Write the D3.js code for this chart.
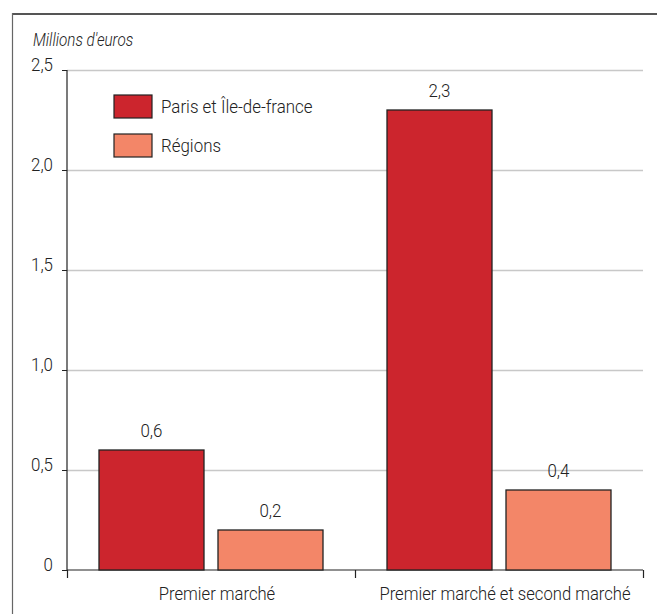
<!DOCTYPE html>
<html><head><meta charset="utf-8">
<script src="https://cdn.jsdelivr.net/npm/d3@7"></script>
<style>
body{margin:0;background:#fff;}
text{font-family:Roboto,"Liberation Sans",sans-serif;font-weight:300;fill:#222;}
</style></head>
<body>
<svg id="c" width="657" height="614"></svg>
<script>
const categories = ["Premier marché", "Premier marché et second marché"];
const seriesNames = ["Paris et Île-de-france", "Régions"];
const parisValues = [0.6, 2.3];
const regionsValues = [0.2, 0.4];
const valueLabels = [["0,6", "0,2"], ["2,3", "0,4"]];
const yTicks = [0, 0.5, 1.0, 1.5, 2.0, 2.5];
const yTickLabels = ["0", "0,5", "1,0", "1,5", "2,0", "2,5"];
const colors = ["#cc252d", "#f38668"];

(function(){
const svg = d3.select("#c");
const mLeft = 67, mRight = 643, mTop = 70, mBottom = 570;
function condense(sel, cf){
  cf = cf || 0.89;
  sel.each(function(){
    const w = this.getComputedTextLength();
    this.setAttribute("textLength", (w*cf).toFixed(2));
    this.setAttribute("lengthAdjust","spacingAndGlyphs");
  });
}

// frame
svg.append("line").attr("x1",12).attr("x2",657).attr("y1",14).attr("y2",14).attr("stroke","#555").attr("stroke-width",2);
svg.append("line").attr("x1",12.5).attr("x2",12.5).attr("y1",13).attr("y2",614).attr("stroke","#666").attr("stroke-width",1.2);

const y = d3.scaleLinear().domain([0,2.5]).range([mBottom, mTop]);
const x0 = d3.scaleBand().domain(categories).range([mLeft, mRight]).paddingInner(0).paddingOuter(0);
const x1 = d3.scaleBand().domain(seriesNames).range([0, 224]).paddingInner(14/119);

// gridlines
svg.append("g").selectAll("line").data(yTicks.filter(d=>d>0)).join("line")
  .attr("x1",mLeft).attr("x2",mRight).attr("y1",d=>Math.round(y(d))+0.5).attr("y2",d=>Math.round(y(d))+0.5)
  .attr("stroke","#c8c8c8").attr("stroke-width",1.5);

// y axis
const yAxis = d3.axisLeft(y).tickValues(yTicks).tickFormat((d,i)=>yTickLabels[i]).tickSize(5).tickPadding(9);
const gy = svg.append("g").attr("transform",`translate(${mLeft},0)`).call(yAxis);
gy.attr("font-family",null).attr("font-size",null);
gy.select(".domain").attr("stroke","#222").attr("stroke-width",1.2).attr("d",`M0,${mTop}V${mBottom}`);
gy.selectAll(".tick line").attr("stroke","#222");
gy.selectAll(".tick text").style("font-size","19px").attr("fill","#222").attr("dy","0.05em").call(condense);

// x axis
const xAxis = d3.axisBottom(x0).tickSize(0).tickFormat(()=>"");
const gx = svg.append("g").attr("transform",`translate(0,${mBottom})`).call(xAxis);
gx.select(".domain").attr("stroke","#222").attr("stroke-width",1.2).attr("d",`M${mLeft},0H${mRight}`);
const seps = [x0.range()[0], ...categories.map(c=>x0(c)+x0.bandwidth())];
gx.selectAll(".sep").data(seps).join("line").attr("class","sep")
  .attr("x1",d=>d+0.5).attr("x2",d=>d+0.5).attr("y1",0).attr("y2",8).attr("stroke","#222").attr("stroke-width",1.2);

// bars
const data = categories.map((c,i)=>({cat:c, vals:[parisValues[i], regionsValues[i]], labels:valueLabels[i]}));
const groups = svg.append("g").selectAll("g").data(data).join("g")
  .attr("transform",d=>`translate(${x0(d.cat)+(x0.bandwidth()-224)/2},0)`);
groups.selectAll("rect").data(d=>d.vals.map((v,j)=>({v, s:seriesNames[j], j}))).join("rect")
  .attr("x",d=>x1(d.s)).attr("width",x1.bandwidth())
  .attr("y",d=>y(d.v)).attr("height",d=>y(0)-y(d.v))
  .attr("fill",d=>colors[d.j]).attr("stroke","#222").attr("stroke-width",1.3);
groups.selectAll("text.val").data(d=>d.vals.map((v,j)=>({v, s:seriesNames[j], l:d.labels[j]}))).join("text")
  .attr("class","val").attr("x",d=>x1(d.s)+x1.bandwidth()/2).attr("y",d=>y(d.v)-13)
  .attr("text-anchor","middle").style("font-size","19px").text(d=>d.l).call(condense);

// category labels
svg.append("g").selectAll("text").data(categories).join("text")
  .attr("x",d=>x0(d)+x0.bandwidth()/2+6).attr("y",600)
  .attr("text-anchor","middle").style("font-size","19px").text(d=>d).call(condense, 0.875);

// y title
svg.append("text").attr("x",33).attr("y",46).style("font-size","17.5px").style("font-style","italic").text("Millions d'euros").call(condense, 0.87);

// legend
const lg = svg.append("g").attr("transform","translate(114,95)");
seriesNames.forEach((s,i)=>{
  lg.append("rect").attr("x",0).attr("y",i*39).attr("width",38).attr("height",23)
    .attr("fill",colors[i]).attr("stroke","#222").attr("stroke-width",1.2);
  lg.append("text").attr("x",47).attr("y",i*39+18).style("font-size","19px").text(s).call(condense);
});
})();
</script>
</body></html>
